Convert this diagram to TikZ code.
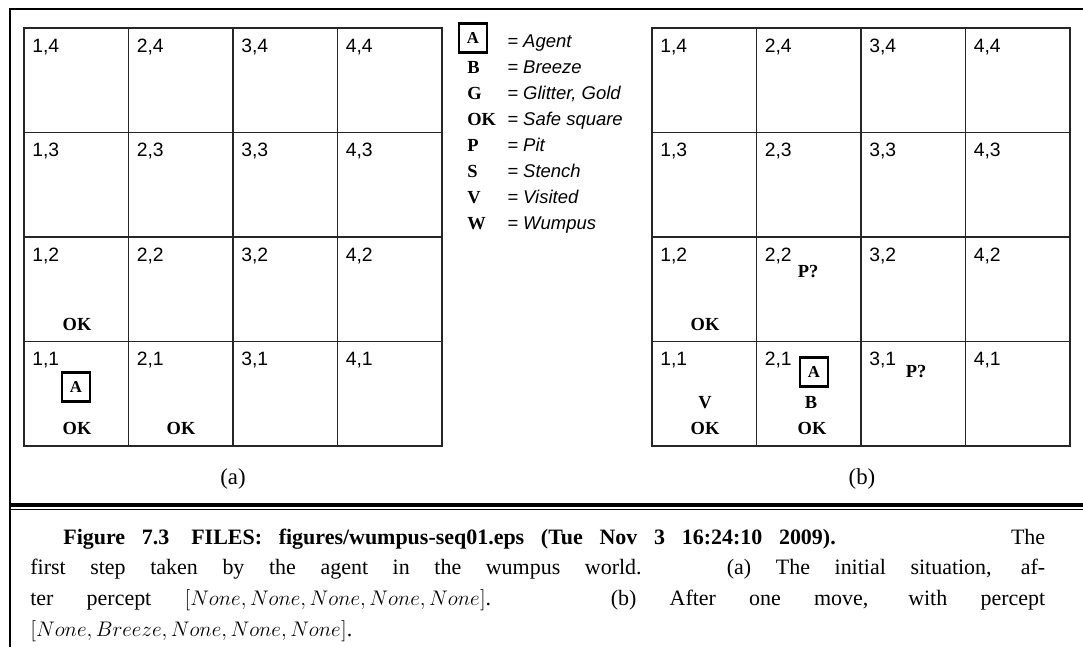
\documentclass[tikz,border=0pt]{standalone}
\usepackage{fontspec}
\setmainfont{Liberation Serif}
\setsansfont{Liberation Sans}
\usetikzlibrary{positioning}
\newcommand{\capgap}{\hspace{0.6em plus 2em}}

\begin{document}
\begin{tikzpicture}[x=0.02cm, y=-0.02cm,
    frame/.style={line width=1.6pt},
    cellline/.style={line width=0.9pt, black!85},
    border/.style={line width=1.6pt, black!85},
    lbl/.style={font=\sffamily\fontsize{11}{13}\selectfont, anchor=base west, inner sep=0pt},
    sym/.style={font=\bfseries\fontsize{10.5}{12}\selectfont, anchor=base, inner sep=0pt},
    agent/.style={draw, line width=1.2pt, font=\bfseries\fontsize{9.5}{11}\selectfont,
      minimum width=15.5pt, minimum height=16.5pt, inner sep=0pt},
    key/.style={font=\sffamily\itshape\fontsize{10.5}{12}\selectfont, anchor=base west, inner sep=0pt},
    sub/.style={font=\fontsize{13}{15}\selectfont},
    capt/.style={font=\fontsize{12.5}{17.5}\selectfont, text width=20.3cm, align=justify,
      anchor=base west, inner sep=0pt},
  ]
  \useasboundingbox (0,0) rectangle (1083,647);

  % --- outer frame and caption rule ---
  \draw[frame] (10,647) -- (10,9) -- (1083,9);
  \draw[line width=1.8pt] (10,505) -- (1083,505);
  \draw[line width=0.9pt] (10,509.5) -- (1083,509.5);

  % --- the two 4x4 worlds ---
  \foreach \g/\ox in {a/24,b/652}{
    \begin{scope}[shift={(\ox,28)}]
      \foreach \k in {1,2,3}{
        \draw[cellline] (\k*104.5,0) -- (\k*104.5,418);
        \draw[cellline] (0,\k*104.5) -- (418,\k*104.5);
      }
      \draw[border] (0,0) rectangle (418,418);
      \foreach \i in {1,...,4}
        \foreach \j in {1,...,4}
          \node[lbl] (\g-\i\j) at ({(\i-1)*104.5+8},{(4-\j)*104.5+24}) {\i,\j};
    \end{scope}
  }

  % --- (a): initial situation ---
  \node[agent] (a-agent) at (76,387) {A};
  \node[sym] (a-ok11) at (77,434) {OK};
  \node[sym] (a-ok21) at (181,434) {OK};
  \node[sym] (a-ok12) at (77,330) {OK};
  \node[sub] (sub-a) at (233,479) {(a)};

  % --- (b): after one move ---
  \node[sym] (b-ok12) at (705,330) {OK};
  \node[sym] (b-p22) at (808,277) {P?};
  \node[sym] (b-v11) at (705,408) {V};
  \node[sym] (b-ok11) at (705,434) {OK};
  \node[agent] (b-agent) at (814,372) {A};
  \node[sym] (b-b21) at (811,408) {B};
  \node[sym] (b-ok21) at (812,434) {OK};
  \node[sym] (b-p31) at (916,377) {P?};
  \node[sub] (sub-b) at (862,479) {(b)};

  % --- legend ---
  \node[agent] (k-A) at (473,38) {A};
  \node[key] (t-A) at (507,47) {= Agent};
  \foreach \s/\t [count=\n] in {B/Breeze, G/{Glitter, Gold}, OK/Safe square,
      P/Pit, S/Stench, V/Visited, W/Wumpus}{
    \node[sym, anchor=base west] (k-\s) at (467,{47+26*\n}) {\s};
    \node[key] (t-\s) at (507,{47+26*\n}) {= \t};
  }

  % --- caption ---
  \node[capt] (caption) at (30,544)
    {\spaceskip=0.3em plus 0.5em minus 0.1em
     \hspace*{0.66cm}\textbf{Figure 7.3\quad FILES: figures/wumpus-seq01.eps (Tue Nov 3 16:24:10 2009).}\hspace{0.6em plus 8em}The\linebreak
     first step taken by the agent in the wumpus world.\capgap (a) The initial situation, af-\linebreak
     ter percept $[None, None, None, None, None]$.\capgap (b) After one move, with percept\linebreak
     $[None, Breeze, None, None, None]$.};
\end{tikzpicture}
\end{document}
